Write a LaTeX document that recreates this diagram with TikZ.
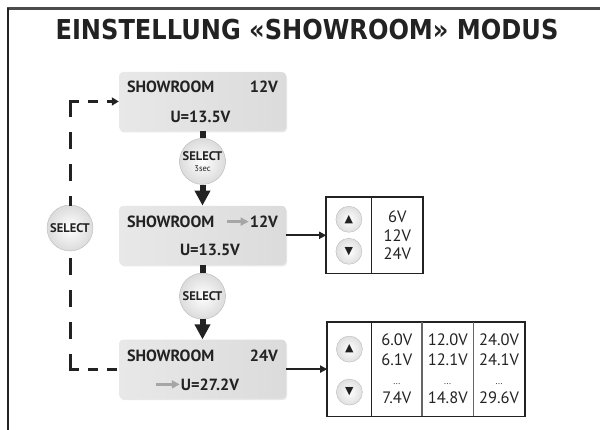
\documentclass[tikz,border=0pt]{standalone}
\usepackage{fontspec}
\setmainfont{PT Sans}
\newfontfamily\titlefont{DejaVu Sans}
\newfontfamily\symfont{DejaVu Sans}
\usepackage{tikz}
\usetikzlibrary{arrows.meta, positioning, calc, fit, shadows}
\definecolor{ink}{RGB}{34,34,34}

\begin{document}
\begin{tikzpicture}[
  x=1pt, y=-1pt,
  panel/.style={rectangle, rounded corners=4pt, minimum width=167pt, minimum height=59pt,
                left color=gray!18, right color=gray!28, draw=none,
                drop shadow={shadow xshift=1pt, shadow yshift=-1.5pt, opacity=0.18}},
  lbl/.style={inner sep=1pt, text=ink, font=\fontsize{16.2}{18}\bfseries\selectfont},
  selbtn/.style={circle, draw=gray!55, minimum size=46pt, inner sep=0pt,
                 inner color=white, outer color=gray!28, align=center, text=ink,
                 font=\fontsize{12.5}{12}\bfseries\selectfont},
  keybtn/.style={circle, draw=gray!55, minimum size=26pt, inner sep=0pt,
                 inner color=white, outer color=gray!25, text=ink,
                 font=\symfont\fontsize{11}{11}\selectfont},
  cell/.style={rectangle, inner sep=0pt, align=center, text=ink,
               font=\fontsize{16.5}{19.3}\selectfont},
  frame/.style={draw=ink, line width=1.5pt, inner sep=0pt},
  divider/.style={draw=gray!80!black, line width=1.3pt},
  flow/.style={line width=6pt, ink},
  flowarr/.style={flow, -{Triangle[width=15pt, length=15pt]}},
  arr/.style={line width=2pt, ink, -{Triangle[width=7pt, length=7pt]}},
  pointer/.style={line width=2.5pt, gray!70, -{Triangle[width=8pt, length=8pt]}},
  dashv/.style={line width=3pt, ink, line cap=rect, dash pattern=on 14pt off 18pt},
  dashh/.style={line width=3pt, ink, line cap=rect, dash pattern=on 7pt off 12pt},
]
\useasboundingbox (0,0) rectangle (600,430);

% frame lines
\draw[gray!60!black, line width=3pt] (7,8.5) -- (600,8.5);
\draw[ink, line width=2pt] (8.3,8.5) -- (8.3,430);

\node[font=\titlefont\bfseries\fontsize{27.4}{30}\selectfont, text=ink] (title) at (307,30)
  {\scalebox{0.88}[1]{EINSTELLUNG «SHOWROOM» MODUS}};

% display panels and select buttons
\node[panel] (box1) at (202.5,101.5) {};
\node[selbtn, below=7pt of box1] (sel1) {SELECT\\[-1.5pt]{\fontsize{8.5}{8.5}\mdseries\selectfont 3sec}};
\node[panel, below=21pt of sel1] (box2) {};
\node[selbtn, below=8pt of box2] (sel2) {SELECT};
\node[panel, below=20pt of sel2] (box3) {};
\node[selbtn] (selL) at (70,228) {SELECT};

% panel texts
\node[lbl, anchor=west] (mode1) at ([shift={(7pt,-15pt)}]box1.north west) {SHOWROOM};
\node[lbl, anchor=east] (volt1) at ([shift={(-7pt,-15pt)}]box1.north east) {12V};
\node[lbl] (meas1) at ([shift={(-2pt,-45pt)}]box1.north) {U=13.5V};

\node[lbl, anchor=west] (mode2) at ([shift={(7pt,-16pt)}]box2.north west) {SHOWROOM};
\node[lbl, anchor=east] (volt2) at ([shift={(-7pt,-16pt)}]box2.north east) {12V};
\node[lbl] (meas2) at ([shift={(7.5pt,-44pt)}]box2.north) {U=13.5V};
\coordinate (ptr2) at ([xshift=-22pt]volt2.west);
\draw[pointer] (ptr2) -- (volt2.west);

\node[lbl, anchor=west] (mode3) at ([shift={(7pt,-16pt)}]box3.north west) {SHOWROOM};
\node[lbl, anchor=east] (volt3) at ([shift={(-7pt,-16pt)}]box3.north east) {24V};
\node[lbl] (meas3) at ([shift={(7.5pt,-45pt)}]box3.north) {U=27.2V};
\coordinate (ptr3) at ([xshift=-24pt]meas3.west);
\draw[pointer] (ptr3) -- (meas3.west);

% main flow
\draw[flow] (box1) -- (sel1);
\draw[flowarr] (sel1) -- (box2);
\draw[flow] (box2) -- (sel2);
\draw[flowarr] (sel2) -- (box3);

% return loop
\coordinate (turnB) at (selL |- box3.west);
\coordinate (turnT) at (selL |- box1.west);
\draw[dashv] (turnB) -- (selL.south);
\draw[dashh] (turnB) -- (box3.west);
\draw[dashv] (turnT) -- (selL.north);
\draw[dashh, -{Triangle[width=8pt, length=7pt]}] (turnT) -- (box1.west);

% voltage choice
\node[cell, minimum width=45pt, minimum height=76pt, right=40pt of box2] (keys1) {};
\node[cell, minimum width=51pt, minimum height=76pt, right=0pt of keys1,
      font=\fontsize{16.5}{18.5}\selectfont] (range1) {6V\\12V\\24V};
\node[keybtn] (up1) at ([yshift=16pt]keys1.center) {▲};
\node[keybtn] (down1) at ([yshift=-16pt]keys1.center) {▼};
\node[frame, fit=(keys1)(range1)] (vals1) {};
\draw[frame] (keys1.north east) -- (keys1.south east);
\draw[arr] (box2) -- (keys1);

% voltage setting
\node[cell, minimum width=44pt, minimum height=94pt, right=41pt of box3] (keys2) {};
\node[cell, minimum width=50pt, minimum height=94pt, right=0pt of keys2] (lowV)
  {6.0V\\6.1V\\{\fontsize{9}{9}\selectfont ...}\\7.4V};
\node[cell, minimum width=51pt, minimum height=94pt, right=0pt of lowV] (midV)
  {12.0V\\12.1V\\{\fontsize{9}{9}\selectfont ...}\\14.8V};
\node[cell, minimum width=51pt, minimum height=94pt, right=0pt of midV] (highV)
  {24.0V\\24.1V\\{\fontsize{9}{9}\selectfont ...}\\29.6V};
\node[keybtn] (up2) at ([yshift=20pt]keys2.center) {▲};
\node[keybtn] (down2) at ([yshift=-23pt]keys2.center) {▼};
\node[frame, fit=(keys2)(highV)] (vals2) {};
\draw[frame] (keys2.north east) -- (keys2.south east);
\draw[divider] (lowV.north east) -- (lowV.south east);
\draw[divider] (midV.north east) -- (midV.south east);
\draw[arr] (box3) -- (keys2);
\end{tikzpicture}
\end{document}
